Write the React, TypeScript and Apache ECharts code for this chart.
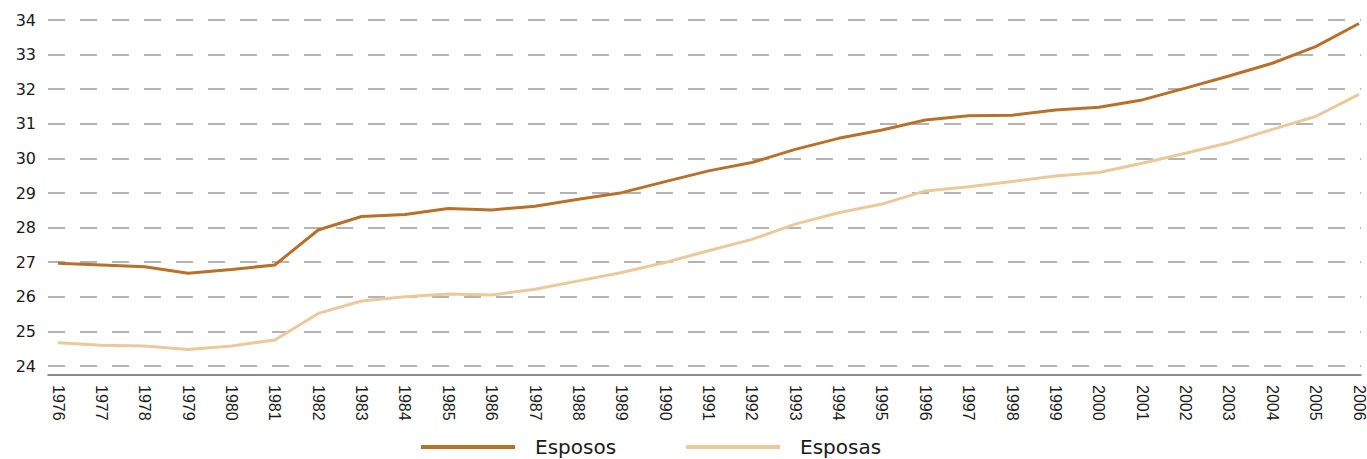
import React, { useEffect, useRef } from "react";
import * as echarts from "echarts";

const years = [
  "1976", "1977", "1978", "1979", "1980", "1981", "1982", "1983", "1984", "1985",
  "1986", "1987", "1988", "1989", "1990", "1991", "1992", "1993", "1994", "1995",
  "1996", "1997", "1998", "1999", "2000", "2001", "2002", "2003", "2004", "2005", "2006",
];

const esposos = [
  26.97, 26.92, 26.87, 26.68, 26.79, 26.92, 27.93, 28.32, 28.38, 28.55,
  28.51, 28.62, 28.82, 29.01, 29.33, 29.64, 29.88, 30.26, 30.58, 30.82,
  31.11, 31.23, 31.25, 31.4, 31.48, 31.69, 32.03, 32.38, 32.75, 33.23, 33.9,
];

const esposas = [
  24.67, 24.6, 24.58, 24.48, 24.58, 24.75, 25.52, 25.88, 26.0, 26.08,
  26.05, 26.22, 26.46, 26.7, 26.99, 27.33, 27.66, 28.1, 28.43, 28.68,
  29.06, 29.18, 29.33, 29.49, 29.59, 29.86, 30.15, 30.45, 30.84, 31.21, 31.85,
];

const seriesNames = ["Esposos", "Esposas"];
const yMin = 24;
const yMax = 34;

export default function App() {
  const ref = useRef<HTMLDivElement>(null);

  useEffect(() => {
    if (!ref.current) return;
    const chart = echarts.init(ref.current, undefined, { renderer: "svg" });
    const option: any = {
      animation: false,
      backgroundColor: "#ffffff",
      grid: [
        { left: 48, right: 6, top: 20, bottom: 93 },
        { left: 58, right: 8, top: 20, bottom: 93 },
      ],
      legend: {
        data: seriesNames,
        left: 421,
        top: 437,
        padding: 0,
        icon: "rect",
        itemWidth: 94,
        itemHeight: 4,
        itemGap: 70,
        formatter: "{t|{name}}",
        textStyle: {
          fontFamily: "DejaVu Sans",
          fontSize: 20,
          color: "#1a1a1a",
          rich: {
            t: {
              fontFamily: "DejaVu Sans",
              fontSize: 20,
              color: "#1a1a1a",
              padding: [0, 0, 0, 15],
            },
          },
        },
      },
      xAxis: [
        {
          gridIndex: 0,
          type: "value",
          min: 0,
          max: 1,
          offset: 9,
          axisLine: { show: true, lineStyle: { color: "#666666", width: 1.5 } },
          axisTick: { show: false },
          axisLabel: { show: false },
          splitLine: { show: false },
        },
        {
          gridIndex: 1,
          type: "category",
          data: years,
          boundaryGap: false,
          axisLine: { show: false },
          axisTick: { show: false },
          splitLine: { show: false },
          axisLabel: {
            rotate: -90,
            interval: 0,
            margin: 19,
            fontFamily: "Liberation Sans",
            fontSize: 16,
            color: "#1a1a1a",
          },
        },
      ],
      yAxis: [
        {
          gridIndex: 0,
          type: "value",
          min: yMin,
          max: yMax,
          interval: 1,
          axisLine: { show: false },
          axisTick: { show: false },
          axisLabel: {
            margin: 12,
            fontFamily: "DejaVu Sans",
            fontSize: 16,
            color: "#1a1a1a",
          },
          splitLine: {
            show: true,
            lineStyle: { color: "#9a9a9a", width: 1.5, type: [17, 15] },
          },
        },
        {
          gridIndex: 1,
          type: "value",
          min: yMin,
          max: yMax,
          show: false,
          splitLine: { show: false },
        },
      ],
      series: [
        {
          name: seriesNames[0],
          type: "line",
          xAxisIndex: 1,
          yAxisIndex: 1,
          data: esposos,
          showSymbol: false,
          symbol: "none",
          color: "#b8702a",
          lineStyle: { color: "#b8702a", width: 3 },
        },
        {
          name: seriesNames[1],
          type: "line",
          xAxisIndex: 1,
          yAxisIndex: 1,
          data: esposas,
          showSymbol: false,
          symbol: "none",
          color: "#ecc99a",
          lineStyle: { color: "#ecc99a", width: 3 },
        },
      ],
    };
    chart.setOption(option);
    return () => chart.dispose();
  }, []);

  return (
    <div
      ref={ref}
      style={{ position: "fixed", left: 0, top: 0, width: 1367, height: 459 }}
    />
  );
}
